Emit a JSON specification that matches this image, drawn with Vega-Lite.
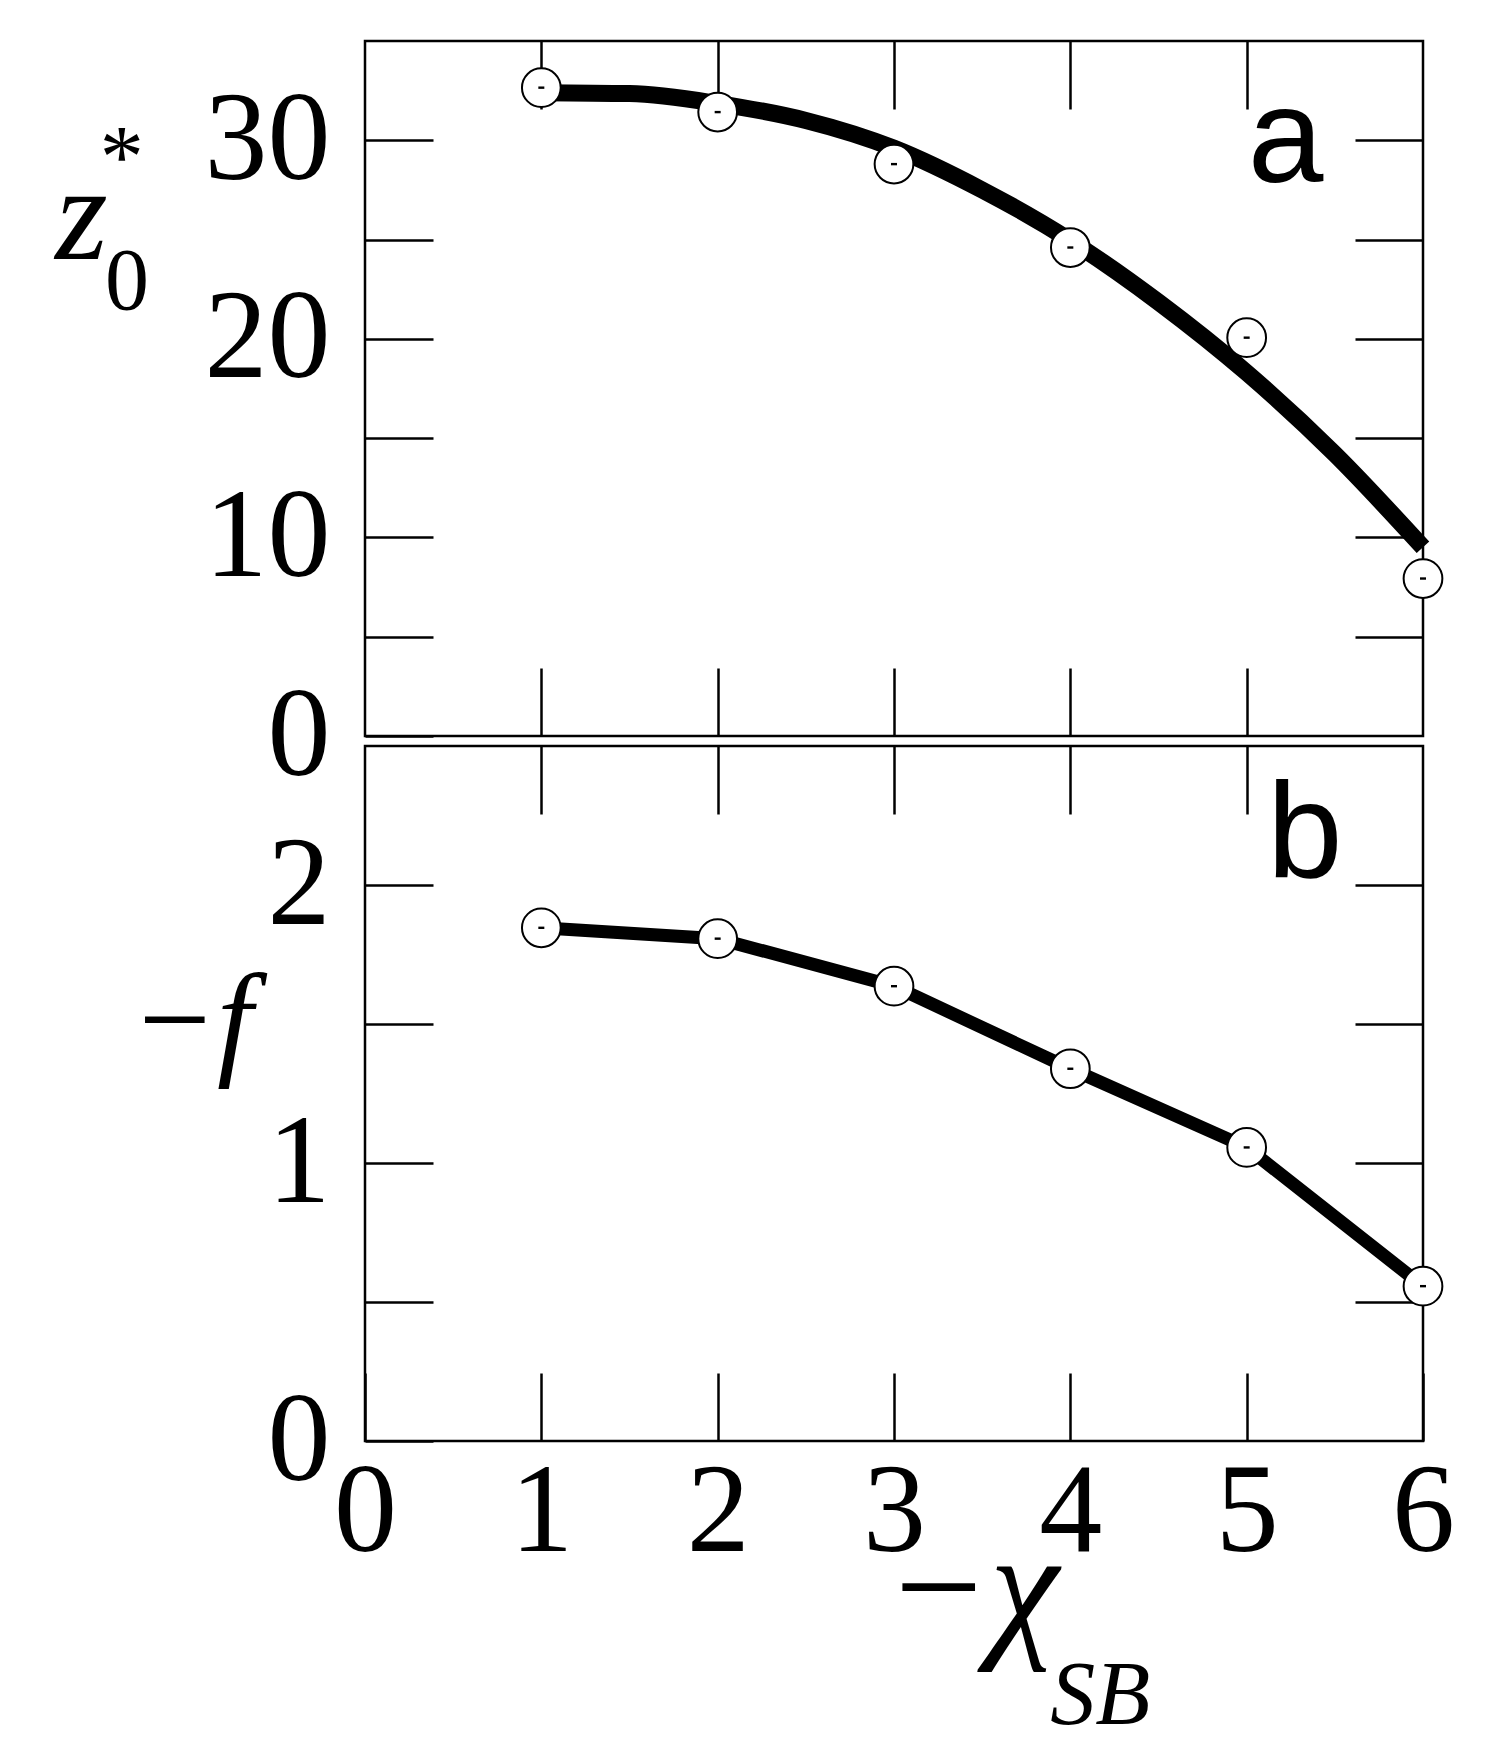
{
  "$schema": "https://vega.github.io/schema/vega-lite/v6.json",
  "padding": {"left": 53, "top": 38, "right": 10, "bottom": 10},
  "background": "white",
  "spacing": 10,
  "bounds": "flush",
  "config": {
    "view": {"stroke": "black", "strokeWidth": 2.5},
    "axis": {
      "domain": false,
      "grid": false,
      "tickColor": "black",
      "tickWidth": 2.5,
      "tickSize": -68,
      "labelFont": "Liberation Serif",
      "labelFontSize": 126,
      "labelColor": "black",
      "labelFlush": false,
      "labelOverlap": false,
      "labelBound": false,
      "titleFont": "Liberation Serif",
      "titleFontStyle": "italic",
      "titleFontWeight": "normal",
      "titleColor": "black"
    }
  },
  "datasets": {
    "curveA": [
      {"chi": 1.0, "z0": 32.4},
      {"chi": 1.5, "z0": 32.35},
      {"chi": 2.0, "z0": 31.85},
      {"chi": 2.5, "z0": 31.0},
      {"chi": 3.0, "z0": 29.6},
      {"chi": 3.5, "z0": 27.5},
      {"chi": 4.0, "z0": 24.95},
      {"chi": 4.5, "z0": 21.85},
      {"chi": 5.0, "z0": 18.3},
      {"chi": 5.5, "z0": 14.2},
      {"chi": 6.0, "z0": 9.5}
    ],
    "pointsA": [
      {"chi": 1, "z0": 32.65},
      {"chi": 2, "z0": 31.42},
      {"chi": 3, "z0": 28.8},
      {"chi": 4, "z0": 24.6},
      {"chi": 5, "z0": 20.06},
      {"chi": 6, "z0": 7.93}
    ],
    "pointsB": [
      {"chi": 1, "f": 1.846},
      {"chi": 2, "f": 1.807},
      {"chi": 3, "f": 1.636},
      {"chi": 4, "f": 1.339},
      {"chi": 5, "f": 1.056},
      {"chi": 6, "f": 0.557}
    ],
    "one": [{}]
  },
  "vconcat": [
    {
      "width": 1058,
      "height": 695,
      "layer": [
        {
          "data": {"name": "curveA"},
          "mark": {"type": "line", "color": "black", "strokeWidth": 17, "interpolate": "monotone", "strokeCap": "butt"},
          "encoding": {
            "x": {"field": "chi", "type": "quantitative", "scale": {"domain": [0, 6], "nice": false},
                  "axis": {"orient": "bottom", "values": [1, 2, 3, 4, 5], "labels": false, "title": null}},
            "y": {"field": "z0", "type": "quantitative", "scale": {"domain": [0, 35], "nice": false, "zero": false},
                  "axis": {"orient": "left", "values": [0, 5, 10, 15, 20, 25, 30],
                           "labelExpr": "datum.value % 10 === 0 ? '' + datum.value : ''",
                           "labelPadding": 103,
                           "title": "z", "titleAngle": 0, "titleX": -284, "titleY": 217,
                           "titleAlign": "center", "titleBaseline": "alphabetic", "titleFontSize": 135}}
          }
        },
        {
          "data": {"name": "pointsA"},
          "mark": {"type": "point", "shape": "circle", "filled": true, "fill": "white", "stroke": "black", "strokeWidth": 2, "size": 1500, "opacity": 1},
          "encoding": {
            "x": {"field": "chi", "type": "quantitative",
                  "axis": {"orient": "top", "values": [1, 2, 3, 4, 5], "labels": false, "title": null}},
            "y": {"field": "z0", "type": "quantitative",
                  "axis": {"orient": "right", "values": [5, 10, 15, 20, 25, 30], "labels": false, "title": null}}
          }
        },
        {
          "data": {"name": "pointsA"},
          "mark": {"type": "point", "shape": "M-1,-0.4L1,-0.4L1,0.4L-1,0.4Z", "filled": true, "fill": "black", "strokeWidth": 0, "size": 36, "opacity": 1},
          "encoding": {
            "x": {"field": "chi", "type": "quantitative", "axis": null},
            "y": {"field": "z0", "type": "quantitative", "axis": null}
          }
        },
        {
          "data": {"name": "one"},
          "mark": {"type": "text", "text": "a", "font": "Liberation Sans", "fontSize": 136, "align": "center", "baseline": "alphabetic", "color": "black"},
          "encoding": {"x": {"datum": 5.22, "type": "quantitative", "axis": null}, "y": {"datum": 27.9, "type": "quantitative", "axis": null}}
        },
        {
          "data": {"name": "one"},
          "mark": {"type": "text", "text": "0", "font": "Liberation Serif", "fontSize": 88, "align": "center", "baseline": "alphabetic", "color": "black"},
          "encoding": {"x": {"datum": -1.35, "type": "quantitative", "axis": null}, "y": {"datum": 21.5, "type": "quantitative", "axis": null}}
        },
        {
          "data": {"name": "one"},
          "mark": {"type": "text", "text": "*", "font": "Liberation Serif", "fontSize": 88, "align": "center", "baseline": "alphabetic", "color": "black"},
          "encoding": {"x": {"datum": -1.38, "type": "quantitative", "axis": null}, "y": {"datum": 27.7, "type": "quantitative", "axis": null}}
        }
      ],
      "resolve": {"axis": {"x": "independent", "y": "independent"}}
    },
    {
      "width": 1058,
      "height": 695,
      "layer": [
        {
          "data": {"name": "pointsB"},
          "mark": {"type": "line", "color": "black", "strokeWidth": 13, "strokeCap": "butt"},
          "encoding": {
            "x": {"field": "chi", "type": "quantitative", "scale": {"domain": [0, 6], "nice": false},
                  "axis": {"orient": "bottom", "values": [0, 1, 2, 3, 4, 5, 6], "labelPadding": 77,
                           "title": "−χ", "titleX": 606, "titleY": 197, "titleAlign": "center",
                           "titleBaseline": "alphabetic", "titleFontSize": 156}},
            "y": {"field": "f", "type": "quantitative", "scale": {"domain": [0, 2.5], "nice": false, "zero": false},
                  "axis": {"orient": "left", "values": [0, 0.5, 1, 1.5, 2],
                           "labelExpr": "datum.value % 1 === 0 ? '' + datum.value : ''",
                           "labelPadding": 103,
                           "title": "−f", "titleAngle": 0, "titleX": -174, "titleY": 315,
                           "titleAlign": "center", "titleBaseline": "alphabetic", "titleFontSize": 128}}
          }
        },
        {
          "data": {"name": "pointsB"},
          "mark": {"type": "point", "shape": "circle", "filled": true, "fill": "white", "stroke": "black", "strokeWidth": 2, "size": 1500, "opacity": 1},
          "encoding": {
            "x": {"field": "chi", "type": "quantitative",
                  "axis": {"orient": "top", "values": [1, 2, 3, 4, 5], "labels": false, "title": null}},
            "y": {"field": "f", "type": "quantitative",
                  "axis": {"orient": "right", "values": [0.5, 1, 1.5, 2], "labels": false, "title": null}}
          }
        },
        {
          "data": {"name": "pointsB"},
          "mark": {"type": "point", "shape": "M-1,-0.4L1,-0.4L1,0.4L-1,0.4Z", "filled": true, "fill": "black", "strokeWidth": 0, "size": 36, "opacity": 1},
          "encoding": {
            "x": {"field": "chi", "type": "quantitative", "axis": null},
            "y": {"field": "f", "type": "quantitative", "axis": null}
          }
        },
        {
          "data": {"name": "one"},
          "mark": {"type": "text", "text": "b", "font": "Liberation Sans", "fontSize": 136, "align": "center", "baseline": "alphabetic", "color": "black"},
          "encoding": {"x": {"datum": 5.33, "type": "quantitative", "axis": null}, "y": {"datum": 2.03, "type": "quantitative", "axis": null}}
        },
        {
          "data": {"name": "one"},
          "mark": {"type": "text", "text": "SB", "font": "Liberation Serif", "fontStyle": "italic", "fontSize": 90, "align": "center", "baseline": "alphabetic", "color": "black"},
          "encoding": {"x": {"datum": 4.17, "type": "quantitative", "axis": null}, "y": {"datum": -1.018, "type": "quantitative", "axis": null}}
        }
      ],
      "resolve": {"axis": {"x": "independent", "y": "independent"}}
    }
  ]
}
